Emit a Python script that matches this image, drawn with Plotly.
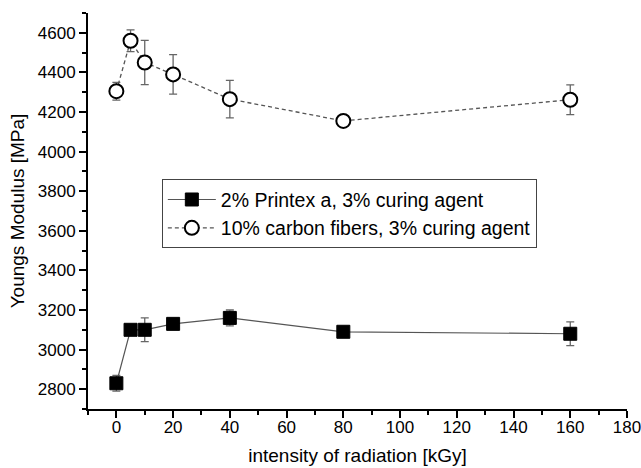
import plotly.graph_objects as go

# Irradiation dose (kGy)
dose = [0, 5, 10, 20, 40, 80, 160]

# 2% Printex a, 3% curing agent
printex_mod = [2830, 3100, 3100, 3130, 3160, 3090, 3080]
printex_err = [40, 12, 60, 12, 40, 10, 60]

# 10% carbon fibers, 3% curing agent
carbon_mod = [4305, 4560, 4450, 4390, 4265, 4155, 4262]
carbon_err = [45, 55, 112, 100, 95, 12, 75]

font_family = "Liberation Sans, Arial, sans-serif"

fig = go.Figure()

fig.add_trace(go.Scatter(
    x=dose, y=printex_mod, mode="lines+markers",
    name="2% Printex a, 3% curing agent",
    line=dict(color="#555555", width=1.2),
    marker=dict(symbol="square", size=13, color="black",
                line=dict(color="black", width=1)),
    error_y=dict(type="data", array=printex_err, visible=True,
                 color="#666666", thickness=1.3, width=4),
))

fig.add_trace(go.Scatter(
    x=dose, y=carbon_mod, mode="lines+markers",
    name="10% carbon fibers, 3% curing agent",
    line=dict(color="#555555", width=1.3, dash="4px,3px"),
    marker=dict(symbol="circle", size=14, color="white",
                line=dict(color="black", width=2)),
    error_y=dict(type="data", array=carbon_err, visible=True,
                 color="#666666", thickness=1.3, width=4),
))

axis_common = dict(
    showline=True, linecolor="black", linewidth=2,
    ticks="outside", ticklen=7, tickwidth=2, tickcolor="black",
    showgrid=False, zeroline=False, mirror=False, automargin=False,
    ticklabeloverflow="allow",
    tickfont=dict(family=font_family, size=17, color="black"),
)

fig.update_xaxes(
    range=[-10, 180], tick0=0, dtick=20,
    minor=dict(ticks="outside", ticklen=4, tickwidth=1.5, tickcolor="black", dtick=10),
    title=dict(text="intensity of radiation [kGy]",
               font=dict(family=font_family, size=19, color="black"),
               standoff=12),
    ticklabelstandoff=-5,
    **axis_common,
)
fig.update_yaxes(
    range=[2700, 4700], tick0=2800, dtick=200,
    minor=dict(ticks="outside", ticklen=4, tickwidth=1.5, tickcolor="black", dtick=100),
    title=dict(text="Youngs Modulus [MPa]",
               font=dict(family=font_family, size=19, color="black"),
               standoff=8),
    **axis_common,
)

fig.update_layout(
    width=641, height=468,
    margin=dict(l=88, r=14, t=13, b=59),
    paper_bgcolor="white", plot_bgcolor="white",
    font=dict(family=font_family, color="black"),
    legend=dict(
        x=0.137, y=0.58, xanchor="left", yanchor="top",
        bgcolor="white", bordercolor="#444444", borderwidth=1,
        font=dict(family=font_family, size=19.5, color="black"),
        tracegroupgap=0, itemwidth=48,
    ),
    showlegend=True,
)

fig.write_html("out.html")
